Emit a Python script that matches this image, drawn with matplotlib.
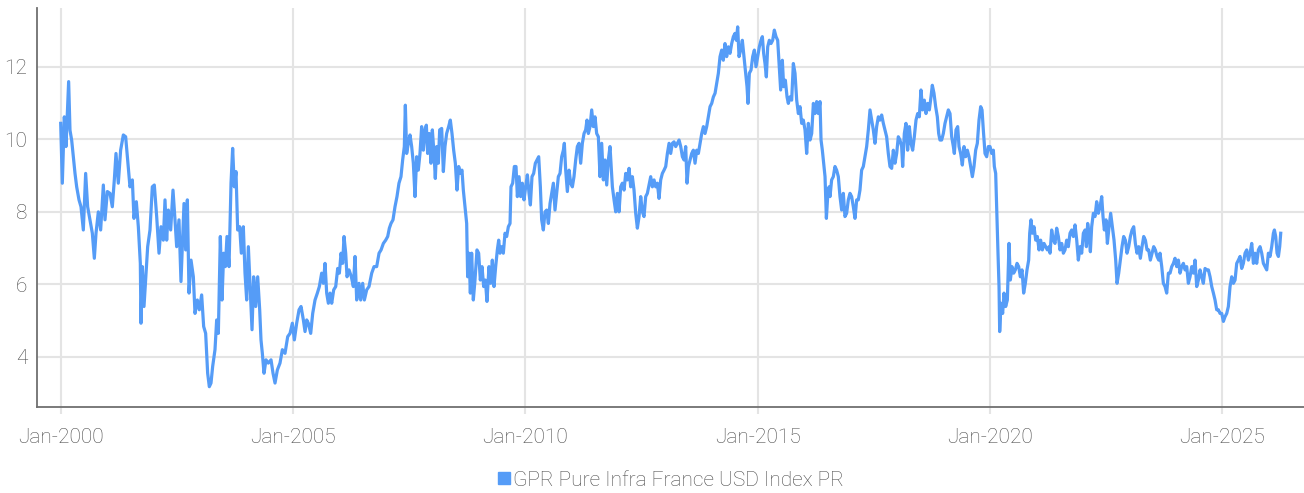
import numpy as np
import pandas as pd
import matplotlib
matplotlib.use("Agg")
import matplotlib.pyplot as plt
import matplotlib.dates as mdates
from matplotlib import font_manager

# GPR Pure Infra France USD Index PR (decimal years after 2000)
yrs = [
    0.0, 0.035, 0.078, 0.114, 0.171, 0.2, 0.236, 0.272, 0.308, 0.344, 0.394, 0.437, 0.487, 0.537, 0.58,
    0.631, 0.681, 0.724, 0.76, 0.81, 0.86, 0.918, 0.953, 1.004, 1.061, 1.111, 1.154, 1.19, 1.24, 1.29,
    1.348, 1.398, 1.441, 1.491, 1.542, 1.577, 1.628, 1.671, 1.714, 1.728, 1.757, 1.793, 1.829, 1.872,
    1.922, 1.972, 2.015, 2.066, 2.116, 2.159, 2.209, 2.245,
    2.281, 2.317, 2.367, 2.417, 2.460, 2.496, 2.546, 2.589, 2.618, 2.654, 2.690, 2.726, 2.762, 2.805,
    2.855, 2.891, 2.941, 2.984, 3.034, 3.077, 3.120, 3.163, 3.199, 3.235, 3.271, 3.321, 3.357, 3.393,
    3.436, 3.472, 3.508, 3.544, 3.579, 3.623, 3.666, 3.701, 3.737, 3.773, 3.809, 3.852, 3.888, 3.931,
    3.967, 4.003, 4.039, 4.082, 4.118, 4.153, 4.197, 4.24, 4.283, 4.311, 4.34, 4.376, 4.419, 4.469,
    4.527, 4.57, 4.613, 4.663, 4.72,
    4.771, 4.828, 4.886, 4.936, 4.986, 5.029, 5.079, 5.130, 5.173, 5.223, 5.259, 5.295, 5.330, 5.381,
    5.424, 5.474, 5.524, 5.567, 5.617, 5.653, 5.689, 5.725, 5.761, 5.797, 5.833, 5.876, 5.919, 5.962,
    5.998, 6.034, 6.069, 6.098, 6.134, 6.163, 6.206, 6.256, 6.299, 6.335, 6.371, 6.421, 6.457, 6.500,
    6.536, 6.586, 6.636, 6.694, 6.744, 6.801, 6.852, 6.895, 6.945, 6.995, 7.038, 7.074,
    7.109, 7.152, 7.195, 7.238, 7.281, 7.324, 7.360, 7.396, 7.418, 7.446, 7.482, 7.518, 7.554, 7.590,
    7.626, 7.662, 7.697, 7.733, 7.769, 7.805, 7.841, 7.870, 7.898, 7.934, 7.970, 7.999, 8.035, 8.063,
    8.092, 8.128, 8.157, 8.200, 8.236, 8.271, 8.307, 8.350, 8.386, 8.422, 8.458, 8.494, 8.530, 8.566,
    8.601, 8.637, 8.666, 8.702, 8.738, 8.759, 8.788, 8.817, 8.845, 8.881, 8.917, 8.960, 8.996, 9.032,
    9.068, 9.104, 9.140, 9.175, 9.218, 9.254, 9.290, 9.326, 9.362, 9.398, 9.427, 9.455,
    9.491, 9.527, 9.563, 9.599, 9.635, 9.671, 9.692, 9.728, 9.764, 9.800, 9.829, 9.865, 9.900, 9.936,
    9.972, 10.008, 10.044, 10.080, 10.109, 10.144, 10.180, 10.216, 10.252, 10.288, 10.324, 10.352,
    10.388, 10.424, 10.460, 10.496, 10.532, 10.568, 10.604, 10.639, 10.675, 10.711, 10.747, 10.783,
    10.819, 10.840, 10.869, 10.905, 10.941, 10.977, 11.013, 11.048, 11.084, 11.120, 11.156, 11.192,
    11.228, 11.264, 11.299, 11.328, 11.357, 11.393, 11.429, 11.465, 11.500, 11.536, 11.572, 11.608,
    11.644, 11.680, 11.716, 11.752, 11.787, 11.823,
    11.874, 11.910, 11.946, 11.981, 12.017, 12.053, 12.089, 12.125, 12.161, 12.197, 12.233, 12.268,
    12.304, 12.340, 12.376, 12.412, 12.448, 12.484, 12.520, 12.555, 12.591, 12.627, 12.663, 12.699,
    12.735, 12.771, 12.807, 12.842, 12.878, 12.914, 12.950, 12.986, 13.022, 13.058, 13.094, 13.129,
    13.165, 13.201, 13.237, 13.273, 13.309, 13.345, 13.381, 13.416, 13.452, 13.481, 13.510, 13.546,
    13.581, 13.617, 13.653, 13.689, 13.725, 13.761, 13.797, 13.833, 13.868, 13.904, 13.940, 13.976,
    14.012, 14.048, 14.084, 14.120, 14.155, 14.191,
    14.227, 14.262, 14.298, 14.334, 14.370, 14.406, 14.442, 14.478, 14.513, 14.542, 14.571, 14.600,
    14.635, 14.671, 14.707, 14.743, 14.772, 14.793, 14.822, 14.858, 14.894, 14.930, 14.965, 15.001,
    15.037, 15.073, 15.102, 15.130, 15.159, 15.188, 15.217, 15.252, 15.288, 15.324, 15.360, 15.396,
    15.432, 15.461, 15.496, 15.532, 15.561, 15.597, 15.633, 15.661, 15.697, 15.733, 15.769, 15.805,
    15.841, 15.877, 15.913, 15.948, 15.984, 16.020, 16.056, 16.092, 16.128, 16.164, 16.200, 16.235,
    16.271, 16.307, 16.343, 16.365, 16.393, 16.422, 16.451, 16.480, 16.508, 16.537,
    16.558, 16.593, 16.629, 16.665, 16.701, 16.737, 16.773, 16.809, 16.845, 16.880, 16.916, 16.952,
    16.988, 17.024, 17.060, 17.096, 17.132, 17.167, 17.203, 17.239, 17.275, 17.311, 17.347, 17.383,
    17.419, 17.454, 17.490, 17.526, 17.562, 17.598, 17.634, 17.670, 17.706, 17.741, 17.777, 17.813,
    17.849, 17.885, 17.921, 17.957, 17.993, 18.028, 18.064, 18.100, 18.122, 18.158, 18.193, 18.229,
    18.265, 18.301, 18.337, 18.373, 18.409, 18.445, 18.480, 18.516, 18.552, 18.588, 18.624, 18.660,
    18.696, 18.732, 18.760, 18.796, 18.832, 18.868, 18.897, 18.925,
    18.961, 18.997, 19.033, 19.069, 19.105, 19.141, 19.177, 19.213, 19.234, 19.270, 19.306, 19.335,
    19.370, 19.406, 19.442, 19.478, 19.514, 19.550, 19.586, 19.622, 19.657, 19.693, 19.729, 19.765,
    19.801, 19.830, 19.858, 19.894, 19.930, 19.966, 20.002, 20.038, 20.074, 20.095, 20.124, 20.152,
    20.174, 20.196, 20.210, 20.239, 20.274, 20.303, 20.339, 20.375, 20.411, 20.439, 20.475, 20.511,
    20.547, 20.583, 20.619, 20.655, 20.691, 20.726, 20.762, 20.798, 20.834, 20.856, 20.884, 20.913,
    20.949, 20.985, 21.021, 21.057, 21.092, 21.128, 21.164, 21.200, 21.236, 21.272,
    21.294, 21.329, 21.365, 21.401, 21.437, 21.473, 21.509, 21.545, 21.581, 21.616, 21.652, 21.688,
    21.724, 21.760, 21.796, 21.832, 21.868, 21.903, 21.939, 21.975, 22.011, 22.047, 22.076, 22.104,
    22.133, 22.162, 22.190, 22.226, 22.262, 22.298, 22.334, 22.370, 22.406, 22.434, 22.463, 22.499,
    22.528, 22.564, 22.599, 22.635, 22.671, 22.707, 22.736, 22.772, 22.808, 22.843, 22.879, 22.915,
    22.951, 22.987, 23.023, 23.059, 23.095, 23.130, 23.166, 23.202, 23.238, 23.274, 23.310, 23.346,
    23.382, 23.417, 23.453, 23.489, 23.525, 23.561, 23.597, 23.633, 23.661,
    23.698, 23.733, 23.769, 23.805, 23.841, 23.877, 23.913, 23.949, 23.984, 24.020, 24.056, 24.092,
    24.128, 24.164, 24.200, 24.236, 24.271, 24.307, 24.343, 24.379, 24.415, 24.451, 24.487, 24.523,
    24.558, 24.594, 24.630, 24.666, 24.702, 24.738, 24.774, 24.810, 24.845, 24.881, 24.917, 24.953,
    24.989, 25.025, 25.061, 25.097, 25.132, 25.168, 25.204, 25.240, 25.276, 25.312, 25.348, 25.384,
    25.419, 25.455, 25.491, 25.527, 25.563, 25.599, 25.635, 25.671, 25.706, 25.742, 25.778, 25.814,
    25.850, 25.886, 25.922, 25.958, 25.993, 26.029, 26.065, 26.101, 26.123, 26.151, 26.180, 26.209,
    26.237, 26.259,
]
vals = [
    10.44, 8.79, 10.62, 9.8, 11.59, 10.25, 9.98, 9.52, 9.06, 8.69, 8.33, 8.14, 7.5, 9.06, 8.14,
    7.78, 7.41, 6.72, 7.41, 8.0, 7.5, 8.74, 7.78, 8.56, 8.51, 8.14, 8.88, 9.61, 8.79, 9.7,
    10.12, 10.07, 9.43, 8.69, 8.88, 7.82, 8.28, 7.59, 6.58, 4.93, 6.49, 5.39, 6.12, 7.04,
    7.5, 8.69, 8.74, 7.87, 6.86, 7.59, 7.22, 8.33,
    7.22, 8.05, 7.5, 8.6, 7.78, 7.04, 7.78, 6.08, 7.04, 8.23, 6.95, 8.33, 5.76, 6.67,
    6.21, 5.2, 5.57, 5.3, 5.71, 4.84, 4.65, 3.55, 3.18, 3.28, 3.74, 4.2, 5.02, 4.65,
    7.32, 5.57, 6.86, 6.49, 7.32, 6.49, 8.79, 9.75, 8.69, 9.11, 7.5, 7.59, 6.86, 7.59,
    6.31, 5.57, 7.04, 5.76, 4.75, 6.21, 5.39, 6.21, 5.3, 4.47, 4.1, 3.55, 3.92, 3.83,
    3.92, 3.55, 3.28, 3.64, 3.83,
    4.2, 4.1, 4.56, 4.65, 4.93, 4.47, 4.93, 5.3, 5.39, 5.02, 4.7, 5.02, 4.93, 4.65,
    5.2, 5.57, 5.76, 5.94, 6.31, 6.03, 6.58, 5.76, 5.48, 5.76, 5.48, 5.85, 5.94, 6.44,
    6.31, 6.86, 6.58, 7.32, 6.86, 6.21, 6.4, 6.21, 5.94, 6.77, 5.57, 6.03, 5.57, 6.03,
    5.57, 5.85, 5.94, 6.31, 6.49, 6.49, 6.86, 6.95, 7.13, 7.22, 7.32, 7.55,
    7.68, 7.78, 8.14, 8.42, 8.79, 8.97, 9.43, 9.8, 10.94, 9.61, 9.89, 10.12, 9.8, 9.34,
    8.42, 9.52, 9.15, 9.61, 10.35, 9.7, 10.26, 10.39, 9.61, 10.16, 9.34, 10.26, 9.61, 8.92,
    9.8, 9.34, 10.26, 10.30, 9.11, 9.8, 10.16, 10.35, 10.53, 10.16, 9.7, 9.34, 8.6, 9.25,
    9.06, 9.15, 8.6, 8.14, 7.68, 6.21, 6.86, 5.76, 6.86, 5.57, 6.12, 6.95, 6.86, 6.12,
    6.49, 5.94, 6.12, 5.53, 6.49, 6.03, 6.67, 5.94, 6.49, 6.95, 7.22, 6.86,
    7.04, 6.86, 7.41, 7.32, 7.59, 7.68, 8.69, 8.79, 9.25, 9.25, 8.42, 8.97, 8.42, 8.79,
    8.33, 8.69, 9.02, 8.51, 8.19, 8.97, 9.06, 9.34, 9.43, 9.52, 8.69, 7.78,
    7.5, 8.0, 8.05, 7.68, 8.23, 8.51, 8.79, 8.05, 8.51, 8.97, 9.06, 9.52,
    9.7, 9.89, 9.15, 8.56, 9.15, 8.79, 8.69, 8.97, 9.43, 9.8, 9.89, 9.34,
    9.89, 10.16, 10.26, 10.53, 10.16, 10.35, 10.81, 10.35, 10.62, 10.16, 10.07, 8.97,
    9.89, 8.88, 9.43, 8.74, 9.43, 9.8,
    8.69, 8.33, 8.0, 8.51, 8.0, 8.69, 8.79, 8.6, 9.06, 8.88, 9.2, 8.69,
    8.97, 8.6, 7.96, 7.55, 7.87, 8.42, 8.0, 7.87, 8.42, 8.51, 8.74, 8.97,
    8.69, 8.88, 8.69, 8.79, 8.37, 8.88, 9.06, 9.15, 9.25, 9.61, 9.89, 9.61,
    9.89, 9.93, 9.8, 9.89, 9.98, 9.8, 9.52, 9.43, 9.8, 8.79, 9.25, 9.43,
    9.61, 9.7, 9.34, 9.7, 9.61, 9.89, 10.16, 10.35, 10.16, 10.35, 10.62, 10.9,
    10.99, 11.17, 11.27, 11.54, 11.82, 12.28,
    12.46, 12.18, 12.64, 12.28, 12.55, 12.37, 12.64, 12.83, 12.92, 12.73, 13.1, 12.28,
    12.46, 12.73, 12.28, 11.82, 11.45, 10.99, 11.82, 11.91, 12.28, 12.46, 12.0, 12.28,
    12.55, 12.73, 12.83, 12.37, 12.09, 11.72, 12.55, 12.73, 12.64, 12.73, 13.01, 12.83,
    12.73, 12.09, 11.36, 12.18, 11.45, 11.63, 11.17, 10.99, 11.17, 11.08, 12.09, 11.82,
    11.08, 10.71, 10.9, 10.44, 10.53, 10.26, 9.61, 10.44, 9.98, 10.16, 10.99, 10.71,
    11.04, 10.71, 11.04, 9.98, 9.7, 9.34, 8.97, 7.82, 8.42, 8.69,
    8.42, 8.88, 8.97, 9.25, 9.15, 8.97, 8.42, 8.05, 8.51, 7.87, 7.96, 8.33,
    8.51, 8.42, 8.14, 7.82, 8.33, 8.33, 8.6, 9.15, 9.25, 9.52, 9.8, 10.26,
    10.81, 10.53, 10.26, 9.89, 10.35, 10.62, 10.53, 10.67, 10.44, 10.26, 10.07, 9.61,
    9.25, 9.2, 9.7, 9.34, 9.61, 10.07, 9.98, 9.8, 9.25, 10.16, 10.44, 9.7,
    10.35, 9.89, 9.7, 10.07, 10.53, 10.71, 10.62, 11.36, 10.81, 11.08, 10.71, 10.99,
    10.81, 11.17, 11.49, 11.27, 10.9, 10.62, 10.16, 9.98,
    9.98, 10.16, 10.44, 10.62, 10.81, 10.71, 10.07, 9.8, 9.61, 10.26, 10.35, 9.8,
    9.61, 9.29, 9.8, 9.52, 9.7, 9.52, 9.25, 8.97, 9.25, 9.7, 9.89, 10.53,
    10.9, 10.81, 10.26, 9.61, 9.52, 9.8, 9.8, 9.61, 9.7, 9.25, 9.06, 7.78,
    6.86, 5.94, 4.7, 5.48, 5.2, 5.76, 5.39, 5.57, 7.13, 6.12, 6.49, 6.31,
    6.4, 6.58, 6.49, 6.21, 6.4, 5.76, 6.03, 6.4, 6.67, 7.41, 7.78, 7.41,
    7.59, 7.22, 7.32, 6.95, 7.22, 6.95, 7.13, 7.04, 6.95, 7.04,
    6.86, 7.5, 7.22, 7.13, 7.55, 7.32, 6.95, 7.13, 6.86, 6.95, 7.22, 7.04,
    7.41, 7.5, 7.32, 7.64, 7.22, 6.67, 7.04, 6.86, 7.41, 7.5, 7.04, 7.68,
    7.41, 6.9, 7.59, 7.96, 7.87, 8.28, 7.96, 8.14, 8.42, 7.87, 7.5, 7.78,
    7.13, 7.59, 7.96, 7.59, 7.22, 6.67, 6.03, 6.31, 6.67, 7.04, 7.32, 7.22,
    6.86, 7.04, 7.32, 7.5, 7.59, 7.13, 6.86, 7.04, 6.72, 7.04, 7.32, 7.22,
    6.95, 6.95, 6.67, 6.86, 7.04, 6.95, 6.77, 6.67, 6.86,
    6.49, 6.03, 5.94, 5.76, 6.31, 6.31, 6.49, 6.58, 6.72, 6.49, 6.67, 6.31,
    6.49, 6.58, 6.4, 6.49, 6.03, 6.21, 6.49, 6.31, 6.67, 5.94, 6.12, 6.4,
    6.21, 6.03, 6.44, 6.4, 6.4, 6.21, 5.94, 5.76, 5.57, 5.3, 5.3, 5.2,
    5.2, 4.98, 5.11, 5.2, 5.39, 5.94, 6.21, 6.03, 6.12, 6.58, 6.67, 6.77,
    6.44, 6.58, 6.86, 6.95, 6.67, 6.86, 7.13, 6.58, 6.86, 6.58, 6.95, 7.04,
    6.86, 6.58, 6.49, 6.4, 6.86, 6.77, 7.04, 7.41, 7.5, 7.32, 6.86, 6.77,
    7.04, 7.41,
]
series_name = "GPR Pure Infra France USD Index PR"
tick_years = [2000, 2005, 2010, 2015, 2020, 2025]
y_ticks = [4, 6, 8, 10, 12]

base = pd.Timestamp("2000-01-01")


def to_date(y):
    return base + pd.to_timedelta(np.asarray(y) * 365.25, unit="D")


# pick a font that is installed
have = {f.name for f in font_manager.fontManager.ttflist}
fam = next((f for f in ["Roboto", "Liberation Sans", "DejaVu Sans"] if f in have), "DejaVu Sans")
plt.rcParams["font.family"] = [fam, "DejaVu Sans"]

grey_txt = "#4a4a4a"
blue = "#559CF7"

fig = plt.figure(figsize=(13.04, 4.93), dpi=100)
ax = fig.add_axes([37 / 1304, 1 - 407 / 493, 1 - 37 / 1304, (407 - 8) / 493])

ax.plot(to_date(yrs), vals, color=blue, lw=2.3, solid_joinstyle="round", label=series_name)

ax.set_xlim(to_date(-0.51), to_date(26.76))
ax.set_ylim(2.62, 13.62)
ax.set_xticks([pd.Timestamp(f"{y}-01-01") for y in tick_years])
ax.xaxis.set_major_formatter(mdates.DateFormatter("%b-%Y"))
ax.set_yticks(y_ticks)

ax.grid(True, color="#e4e4e4", lw=1.5)
ax.set_axisbelow(True)
for s in ["top", "right"]:
    ax.spines[s].set_visible(False)
for s in ["left", "bottom"]:
    ax.spines[s].set_color("#707070")
    ax.spines[s].set_linewidth(1.3)

ax.tick_params(axis="x", length=5, color="#e4e4e4", width=1.5, pad=10,
               labelsize=15, labelcolor=grey_txt)
ax.tick_params(axis="y", length=0, pad=7, labelsize=15, labelcolor=grey_txt)
for lab in ax.get_xticklabels() + ax.get_yticklabels():
    lab.set_fontweight("light")

handle = plt.Line2D([], [], marker="s", color=blue, ls="none", markersize=8)
leg = fig.legend([handle], [series_name], loc="center", bbox_to_anchor=(670 / 1304, 1 - 480 / 493),
                 frameon=False, handletextpad=0.05, handlelength=0.8, fontsize=15)
for t in leg.get_texts():
    t.set_color(grey_txt)
    t.set_fontweight("light")

fig.savefig("out.png", dpi=100)
